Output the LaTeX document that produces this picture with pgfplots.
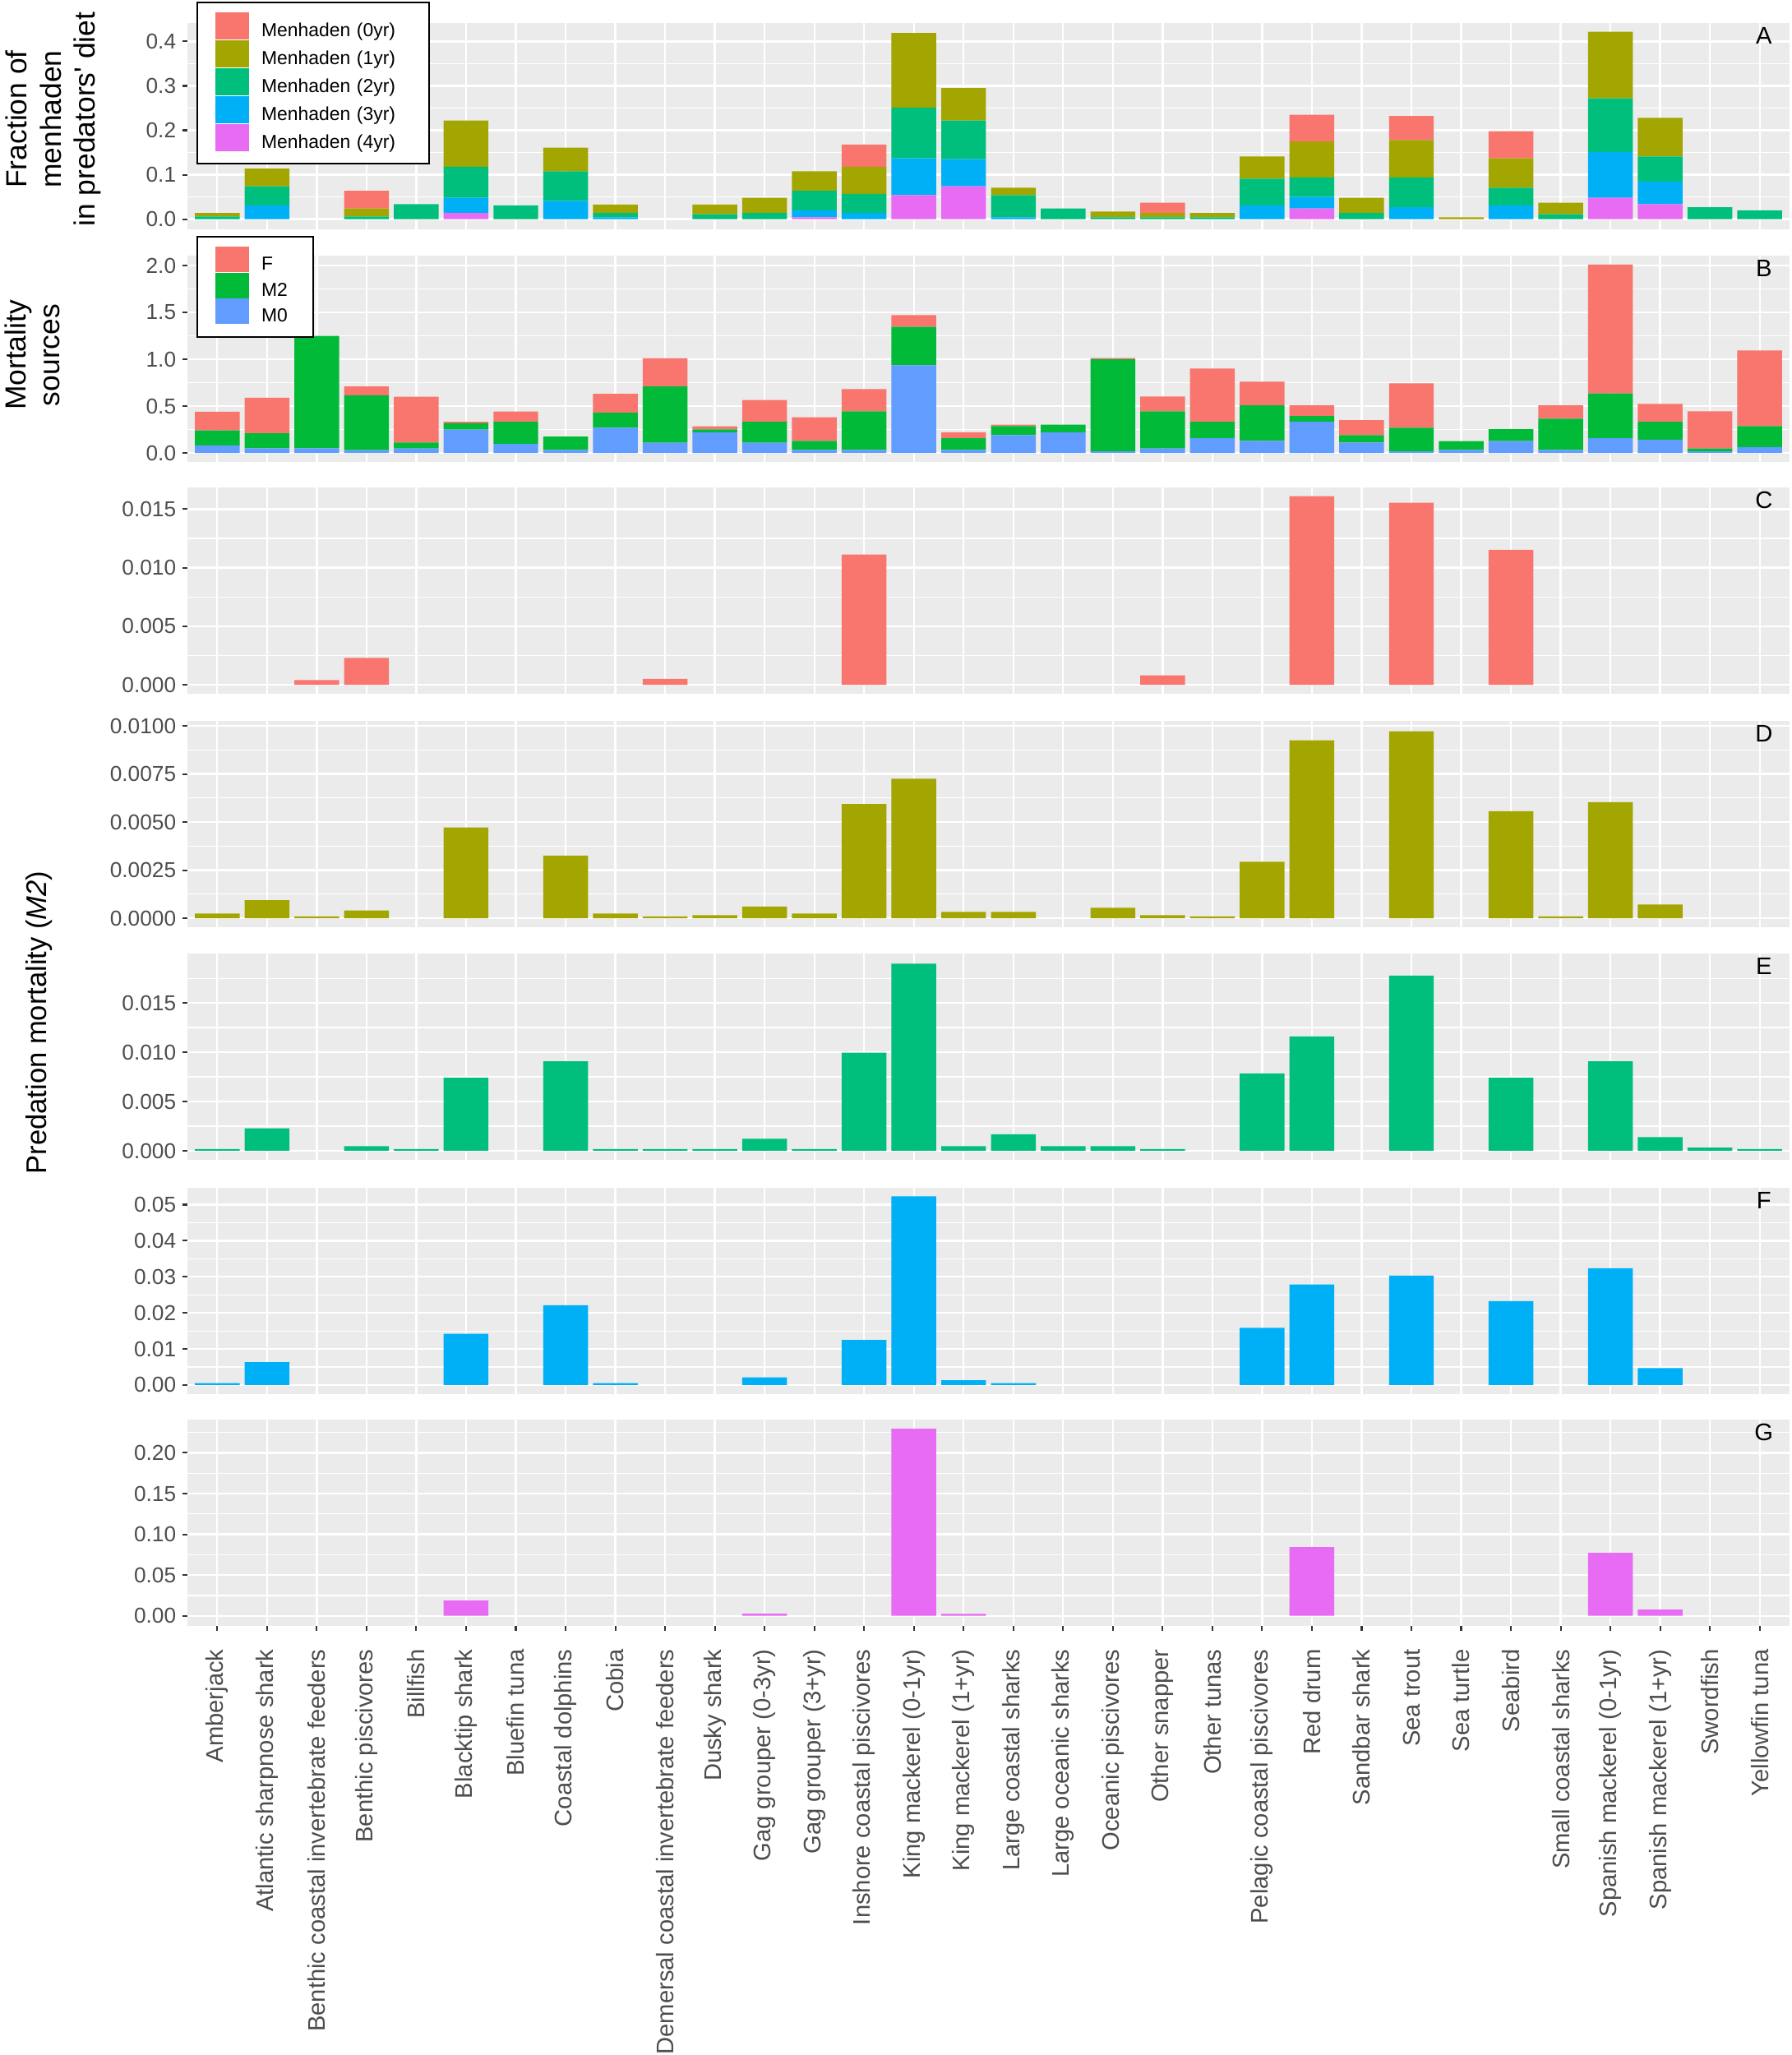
\documentclass[border=0pt]{standalone}
\usepackage{pgfplots}
\pgfplotsset{compat=1.18}
\usepackage{pgfplotstable}
\usepackage{fontspec}
\setmainfont{Liberation Sans}
\definecolor{ggbg}{HTML}{EBEBEB}
\definecolor{ggtext}{HTML}{4D4D4D}
\definecolor{ggtick}{HTML}{333333}
\definecolor{cA}{HTML}{F8766D}
\definecolor{cB}{HTML}{A3A500}
\definecolor{cC}{HTML}{00BF7D}
\definecolor{cD}{HTML}{00B0F6}
\definecolor{cE}{HTML}{E76BF3}
\definecolor{cMtwo}{HTML}{00BA38}
\definecolor{cMzero}{HTML}{619CFF}

% Panel A: fraction of menhaden age classes in predators' diet
\pgfplotstableread{
x m4 m3 m2 m1 m0
0 0 0 0.006 0.008 0
1 0 0.031 0.043 0.040 0
2 0 0 0 0 0
3 0 0 0.006 0.018 0.040
4 0 0 0.034 0 0
5 0.014 0.034 0.070 0.104 0
6 0 0 0.031 0 0
7 0 0.041 0.067 0.053 0
8 0 0.004 0.010 0.019 0
9 0 0 0 0 0
10 0 0 0.011 0.022 0
11 0 0 0.014 0.034 0
12 0.004 0.016 0.044 0.044 0
13 0 0.014 0.043 0.061 0.050
14 0.054 0.083 0.114 0.168 0
15 0.074 0.061 0.087 0.073 0
16 0 0.004 0.050 0.017 0
17 0 0 0.024 0 0
18 0 0 0.004 0.013 0
19 0 0 0.004 0.010 0.023
20 0 0 0.004 0.010 0
21 0 0.031 0.060 0.050 0
22 0.024 0.026 0.044 0.081 0.060
23 0 0 0.014 0.034 0
24 0 0.027 0.067 0.084 0.054
25 0 0 0 0.004 0
26 0 0.031 0.040 0.066 0.061
27 0 0 0.011 0.026 0
28 0.048 0.103 0.121 0.150 0
29 0.034 0.050 0.057 0.087 0
30 0 0 0.027 0 0
31 0 0 0.020 0 0
}\diet

% Panel B: mortality sources
\pgfplotstableread{
x M0 M2 F
0 0.080 0.160 0.200
1 0.050 0.160 0.380
2 0.050 1.200 0
3 0.030 0.585 0.094
4 0.047 0.064 0.490
5 0.250 0.068 0.014
6 0.096 0.237 0.109
7 0.032 0.143 0
8 0.270 0.160 0.200
9 0.110 0.600 0.300
10 0.222 0.029 0.033
11 0.110 0.222 0.234
12 0.032 0.097 0.251
13 0.032 0.412 0.237
14 0.936 0.409 0.126
15 0.032 0.126 0.064
16 0.190 0.097 0.014
17 0.222 0.079 0
18 0.018 0.982 0.012
19 0.047 0.397 0.158
20 0.158 0.175 0.568
21 0.129 0.380 0.251
22 0.333 0.062 0.114
23 0.111 0.079 0.161
24 0.018 0.251 0.474
25 0.032 0.094 0
26 0.126 0.128 0
27 0.032 0.333 0.144
28 0.158 0.477 1.374
29 0.143 0.190 0.190
30 0.018 0.029 0.397
31 0.064 0.223 0.807
}\mort

\pgfplotsset{
  panel/.style={
    scale only axis, width=467.76pt, height=60.24pt,
    xmin=-0.6, xmax=31.6,
    axis background/.style={fill=ggbg},
    axis line style={draw=none},
    xtick={0,...,31},
    tick pos=left,
    tick align=outside,
    major tick length=1.4pt, minor tick length=0pt,
    tick style={color=ggtick, line width=0.5pt},
    xmajorgrids, ymajorgrids, yminorgrids,
    major grid style={white, line width=0.55pt},
    minor grid style={white, line width=0.28pt},
    yticklabel style={font=\fontsize{6.3}{7}\selectfont, text=ggtext},
    yticklabel shift=-1.6pt,
    scaled y ticks=false,
    /pgf/number format/assume math mode=true,
    ybar stacked, bar width=0.9,
    clip=false,
  },
  noxt/.style={xticklabels={}, major x tick style={draw=none}},
  prec/.style={yticklabel style={/pgf/number format/.cd, fixed, fixed zerofill, precision=#1}},
  sqA/.style={legend image code/.code={\fill[##1] (0pt,-2pt) rectangle (9.84pt,5.9pt);}},
  sqB/.style={legend image code/.code={\fill[##1] (0pt,-1.8pt) rectangle (9.84pt,5.64pt);}},
  leg/.style 2 args={legend style={draw=black, line width=0.5pt, fill=white,
      font=\fontsize{5.5}{6.6}\selectfont, inner xsep=5.3pt, inner ysep=2.9pt,
      /tikz/row sep=#2, /tikz/column sep=3.6pt,
      nodes={inner sep=0pt, text width=#1, align=left}},
      legend cell align=left, reverse legend},
}
\tikzset{plabel/.style={font=\fontsize{7}{8}\selectfont}}

\begin{document}
\begin{tikzpicture}
\useasboundingbox (0pt,0pt) rectangle (522.96pt,-600pt);

% ---------- A ----------
\begin{axis}[panel, noxt, prec=1, at={(54.72pt,-6.72pt)}, anchor=north west,
  ymin=-0.0229, ymax=0.4415, ytick={0,0.1,0.2,0.3,0.4}, minor ytick={0.05,0.15,0.25,0.35},
  every axis plot post/.append style={sqA},
  leg={43.6pt}{-0.5pt}, legend style={at={(0.0056,1.104)}, anchor=north west}]
\addplot[fill=cE, draw=none] table[x=x, y=m4] {\diet};
\addplot[fill=cD, draw=none] table[x=x, y=m3] {\diet};
\addplot[fill=cC, draw=none] table[x=x, y=m2] {\diet};
\addplot[fill=cB, draw=none] table[x=x, y=m1] {\diet};
\addplot[fill=cA, draw=none] table[x=x, y=m0] {\diet};
\legend{Menhaden (4yr),Menhaden (3yr),Menhaden (2yr),Menhaden (1yr),Menhaden (0yr)}
\node[plabel] at (rel axis cs:0.984,0.94) {A};
\end{axis}

% ---------- B ----------
\begin{axis}[panel, noxt, prec=1, at={(54.72pt,-74.64pt)}, anchor=north west,
  ymin=-0.096, ymax=2.105, ytick={0,0.5,1,1.5,2}, minor ytick={0.25,0.75,1.25,1.75},
  every axis plot post/.append style={sqB},
  leg={9.8pt}{-0.7pt}, legend style={at={(0.0056,1.0956)}, anchor=north west}]
\addplot[fill=cMzero, draw=none] table[x=x, y=M0] {\mort};
\addplot[fill=cMtwo, draw=none] table[x=x, y=M2] {\mort};
\addplot[fill=cA, draw=none] table[x=x, y=F] {\mort};
\legend{M0,M2,F}
\node[plabel] at (rel axis cs:0.984,0.94) {B};
\end{axis}

% ---------- C ----------
\begin{axis}[panel, noxt, prec=3, at={(54.72pt,-142.32pt)}, anchor=north west,
  ymin=-0.00077, ymax=0.01685, ytick={0,0.005,0.01,0.015}, minor ytick={0.0025,0.0075,0.0125}]
\addplot[fill=cA, draw=none] coordinates {(2,0.0004) (3,0.0023) (9,0.0005) (13,0.01113) (19,0.0008) (22,0.0161) (24,0.01554) (26,0.01153)};
\node[plabel] at (rel axis cs:0.984,0.94) {C};
\end{axis}

% ---------- D ----------
\begin{axis}[panel, noxt, prec=4, at={(54.72pt,-210.48pt)}, anchor=north west,
  ymin=-0.00047, ymax=0.01026, ytick={0,0.0025,0.005,0.0075,0.01}, minor ytick={0.00125,0.00375,0.00625,0.00875}]
\addplot[fill=cB, draw=none] coordinates {(0,0.00024) (1,0.00094) (2,0.00009) (3,0.0004) (5,0.00472) (7,0.00325) (8,0.00024) (9,0.00009) (10,0.00016) (11,0.00061) (12,0.00024) (13,0.00594) (14,0.00725) (15,0.00033) (16,0.00033) (18,0.00054) (19,0.00016) (20,0.00009) (21,0.00293) (22,0.00925) (24,0.00972) (26,0.00556) (27,0.00009) (28,0.00603) (29,0.00071)};
\node[plabel] at (rel axis cs:0.984,0.94) {D};
\end{axis}

% ---------- E ----------
\begin{axis}[panel, noxt, prec=3, at={(54.72pt,-278.4pt)}, anchor=north west,
  ymin=-0.00092, ymax=0.02001, ytick={0,0.005,0.01,0.015}, minor ytick={0.0025,0.0075,0.0125,0.0175}]
\addplot[fill=cC, draw=none] coordinates {(0,0.00017) (1,0.00228) (3,0.00047) (4,0.00017) (5,0.0074) (7,0.00907) (8,0.00017) (9,0.00017) (10,0.00017) (11,0.00122) (12,0.00017) (13,0.00996) (14,0.01898) (15,0.00047) (16,0.00167) (17,0.00047) (18,0.00047) (19,0.00017) (21,0.00785) (22,0.0116) (24,0.01778) (26,0.0074) (28,0.00907) (29,0.00139) (30,0.00033) (31,0.00017)};
\node[plabel] at (rel axis cs:0.984,0.94) {E};
\end{axis}

% ---------- F ----------
\begin{axis}[panel, noxt, prec=2, at={(54.72pt,-346.8pt)}, anchor=north west,
  ymin=-0.00253, ymax=0.05467, ytick={0,0.01,0.02,0.03,0.04,0.05}, minor ytick={0.005,0.015,0.025,0.035,0.045}]
\addplot[fill=cD, draw=none] coordinates {(0,0.00054) (1,0.00636) (5,0.01417) (7,0.02213) (8,0.00054) (11,0.00214) (13,0.01248) (14,0.0523) (15,0.0013) (16,0.00054) (21,0.01585) (22,0.02787) (24,0.03032) (26,0.02328) (28,0.03239) (29,0.00467)};
\node[plabel] at (rel axis cs:0.984,0.94) {F};
\end{axis}

% ---------- G ----------
\begin{axis}[panel, prec=2, at={(54.72pt,-414.48pt)}, anchor=north west,
  ymin=-0.0124, ymax=0.2407, ytick={0,0.05,0.1,0.15,0.2}, minor ytick={0.025,0.075,0.125,0.175,0.225},
  xticklabels={Amberjack,Atlantic sharpnose shark,Benthic coastal invertebrate feeders,Benthic piscivores,Billfish,Blacktip shark,Bluefin tuna,Coastal dolphins,Cobia,Demersal coastal invertebrate feeders,Dusky shark,Gag grouper (0-3yr),Gag grouper (3+yr),Inshore coastal piscivores,King mackerel (0-1yr),King mackerel (1+yr),Large coastal sharks,Large oceanic sharks,Oceanic piscivores,Other snapper,Other tunas,Pelagic coastal piscivores,Red drum,Sandbar shark,Sea trout,Sea turtle,Seabird,Small coastal sharks,Spanish mackerel (0-1yr),Spanish mackerel (1+yr),Swordfish,Yellowfin tuna},
  xticklabel shift=1.9pt,
  xticklabel style={rotate=90, anchor=east, font=\fontsize{7}{8}\selectfont, text=ggtext}]
\addplot[fill=cE, draw=none] coordinates {(5,0.0188) (11,0.0027) (14,0.2296) (15,0.0024) (22,0.0844) (28,0.0773) (29,0.0077)};
\node[plabel] at (rel axis cs:0.984,0.94) {G};
\end{axis}

% ---------- axis titles ----------
\node[rotate=90, align=center, font=\fontsize{8.5}{9.9}\selectfont] at (15.6pt,-34.8pt) {Fraction of\\menhaden\\in predators\textquotesingle\ diet};
\node[rotate=90, align=center, font=\fontsize{8.5}{9.9}\selectfont] at (9.36pt,-103.68pt) {Mortality\\sources};
\node[rotate=90, font=\fontsize{8.3}{9.5}\selectfont] at (11.52pt,-298.56pt) {Predation mortality (\textit{M2})};
\end{tikzpicture}
\end{document}
